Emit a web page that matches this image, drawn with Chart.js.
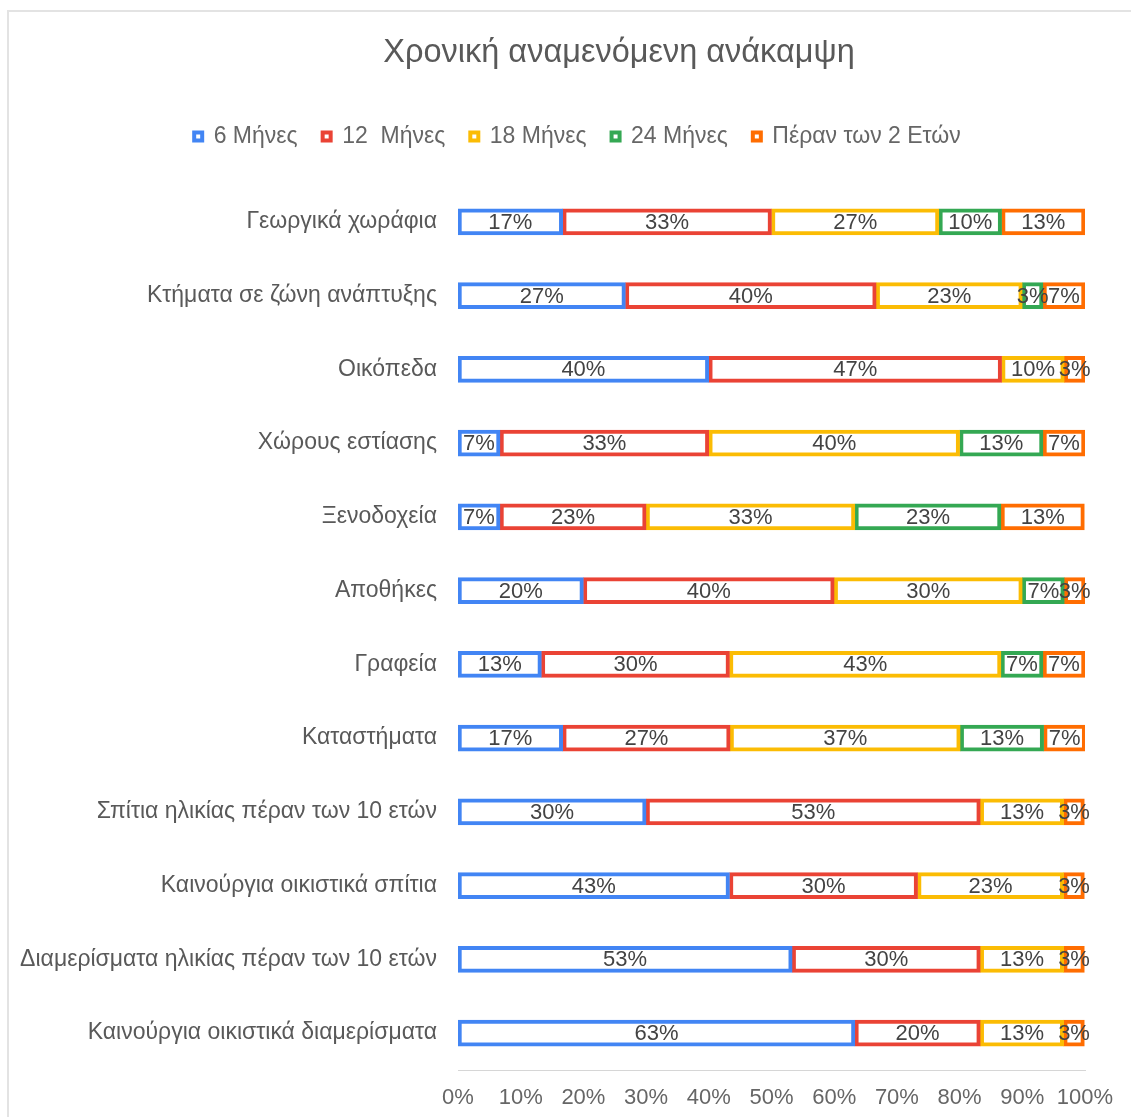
<!DOCTYPE html>
<html>
<head>
<meta charset="utf-8">
<script src="https://cdn.jsdelivr.net/npm/chart.js@4/dist/chart.umd.min.js"></script>
<style>
  body { margin: 0; background: #fff; overflow: hidden; }
  #frame { position: absolute; left: 7px; top: 10px; right: -5px; bottom: -5px;
           border-left: 2px solid #e3e3e3; border-top: 2px solid #e3e3e3; }
  #wrap { position: absolute; left: 0; top: 0; width: 1131px; height: 1117px; }
</style>
</head>
<body>
<div id="frame"></div>
<div id="wrap"><canvas id="myChart"></canvas></div>
<script>
const chartTitle = 'Χρονική αναμενόμενη ανάκαμψη';

const categories = [
  'Γεωργικά χωράφια',
  'Κτήματα σε ζώνη ανάπτυξης',
  'Οικόπεδα',
  'Χώρους εστίασης',
  'Ξενοδοχεία',
  'Αποθήκες',
  'Γραφεία',
  'Καταστήματα',
  'Σπίτια ηλικίας πέραν των 10 ετών',
  'Καινούργια οικιστικά σπίτια',
  'Διαμερίσματα ηλικίας πέραν των 10 ετών',
  'Καινούργια οικιστικά διαμερίσματα'
];

const seriesNames = ['6 Μήνες', '12  Μήνες', '18 Μήνες', '24 Μήνες', 'Πέραν των 2 Ετών'];
const seriesColors = ['#4285F4', '#EA4335', '#FBBC04', '#34A853', '#FF6D01'];

const months6  = [16.7, 26.7, 40, 6.7, 6.7, 20, 13.3, 16.7, 30, 43.3, 53.3, 63.3];
const months12 = [33.3, 40, 46.7, 33.3, 23.3, 40, 30, 26.7, 53.3, 30, 30, 20];
const months18 = [26.7, 23.3, 10, 40, 33.3, 30, 43.3, 36.7, 13.3, 23.3, 13.3, 13.3];
const months24 = [10, 3.3, 0, 13.3, 23.3, 6.7, 6.7, 13.3, 0, 0, 0, 0];
const beyond2y = [13.3, 6.7, 3.3, 6.7, 13.3, 3.3, 6.7, 6.7, 3.3, 3.3, 3.3, 3.3];

const seriesValues = [months6, months12, months18, months24, beyond2y];
const xTicks = [0, 10, 20, 30, 40, 50, 60, 70, 80, 90, 100];

const FONT = "'Liberation Sans', Arial, sans-serif";

// title drawn by hand so it can sit off-centre like the original,
// and the legend nudged right a bit
const titlePlugin = {
  id: 'offsetTitle',
  afterLayout(chart) {
    chart.legend.left += 35;
    chart.legend.right += 35;
  },
  afterDraw(chart) {
    const ctx = chart.ctx;
    ctx.save();
    ctx.font = '32.5px ' + FONT;
    ctx.fillStyle = '#595959';
    ctx.textAlign = 'center';
    ctx.textBaseline = 'middle';
    ctx.fillText(chartTitle, 619, 53);
    ctx.restore();
  }
};

// value labels in the middle of every segment
const valueLabels = {
  id: 'valueLabels',
  afterDatasetsDraw(chart) {
    const ctx = chart.ctx;
    ctx.save();
    ctx.font = '22px ' + FONT;
    ctx.fillStyle = '#434343';
    ctx.textAlign = 'center';
    ctx.textBaseline = 'middle';
    chart.data.datasets.forEach((ds, i) => {
      chart.getDatasetMeta(i).data.forEach((bar, j) => {
        const v = ds.data[j];
        if (!v) return;
        ctx.fillText(Math.round(v) + '%', (bar.x + bar.base) / 2, bar.y + 1);
      });
    });
    ctx.restore();
  }
};

const data = {
  labels: categories,
  datasets: seriesNames.map((name, i) => ({
    label: name,
    data: seriesValues[i],
    backgroundColor: '#ffffff',
    borderColor: seriesColors[i],
    borderWidth: 4,
    borderSkipped: false,
    barThickness: 26
  }))
};

const ctx = document.getElementById('myChart');
const myChart = new Chart(ctx, {
  type: 'bar',
  data: data,
  plugins: [titlePlugin, valueLabels],
  options: {
    indexAxis: 'y',
    responsive: true,
    maintainAspectRatio: false,
    animation: false,
    layout: { padding: { left: 0, right: 46, top: 100, bottom: 0 } },
    plugins: {
      title: { display: false },
      subtitle: { display: true, text: '', weight: 500, font: { size: 10, lineHeight: 1.2 }, padding: { top: 15, bottom: 0 } },
      tooltip: { enabled: false },
      legend: {
        position: 'top',
        labels: {
          boxWidth: 8,
          boxHeight: 8,
          padding: 25,
          color: '#666666',
          font: { family: FONT, size: 23 }
        }
      }
    },
    scales: {
      x: {
        stacked: true,
        min: 0,
        max: 100,
        afterBuildTicks(scale) { scale.ticks = xTicks.map(v => ({ value: v })); },
        afterFit(scale) { scale.height = 47; },
        grid: { display: false, drawTicks: false },
        border: { display: true, color: '#d6d6d6', dash: [2, 2] },
        ticks: {
          padding: 15,
          color: '#666666',
          font: { family: FONT, size: 22 },
          callback: v => v + '%'
        }
      },
      y: {
        stacked: true,
        afterFit(scale) { scale.width = 458; },
        grid: { display: false, drawTicks: false },
        border: { display: false },
        ticks: {
          padding: 21,
          color: '#595959',
          font: { family: FONT, size: 23 }
        }
      }
    }
  }
});
</script>
</body>
</html>
